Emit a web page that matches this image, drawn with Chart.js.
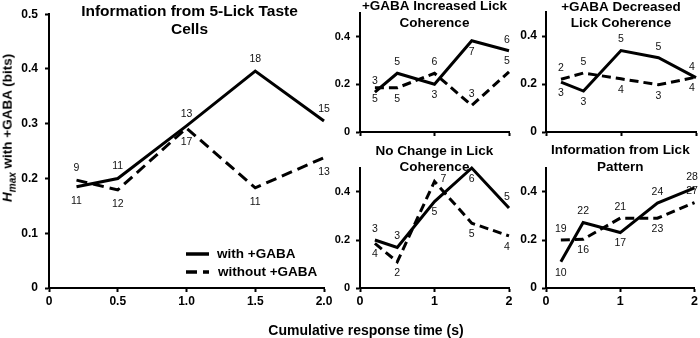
<!DOCTYPE html>
<html>
<head>
<meta charset="utf-8">
<script src="https://cdn.jsdelivr.net/npm/chart.js@4.4.1/dist/chart.umd.min.js"></script>
<style>
    body { margin: 0; background: #fff; width: 700px; height: 338px; overflow: hidden; position: relative; font-family: "Liberation Sans", Arial, sans-serif; }
    canvas { position: absolute; }
    #ylab { position: absolute; left: 9px; top: 128px; transform: translate(-50%, -50%) rotate(-90deg); white-space: nowrap; font-weight: bold; font-size: 13.5px; line-height: 1; color: #000; }
    #ylab sub { font-size: 10px; line-height: 1; }
    #xlab { position: absolute; left: 366px; top: 330px; transform: translate(-50%, -50%); white-space: nowrap; font-weight: bold; font-size: 14px; color: #000; }
</style>
</head>
<body>
<canvas id="taste" width="345" height="310" style="left:0;top:0"></canvas>
<canvas id="incr" width="200" height="160" style="left:315px;top:0"></canvas>
<canvas id="decr" width="190" height="160" style="left:510px;top:0"></canvas>
<canvas id="nochg" width="200" height="200" style="left:315px;top:138px"></canvas>
<canvas id="pattern" width="190" height="200" style="left:510px;top:138px"></canvas>
<div id="ylab"><i>H</i><sub><i>max</i></sub> with +GABA (bits)</div>
<div id="xlab">Cumulative response time (s)</div>
<script>
const times = [0.2, 0.5, 1.0, 1.5, 2.0];
const seriesNames = ['with +GABA', 'without +GABA'];

const mainXTicks = [0, 0.5, 1.0, 1.5, 2.0];
const mainYTicks = [0, 0.1, 0.2, 0.3, 0.4, 0.5];
const smallXTicks = [0, 1, 2];
const smallYTicks = [0, 0.2, 0.4];

// Information from 5-Lick Taste Cells
const tasteTitle = ['Information from 5-Lick Taste', 'Cells'];
const tasteWith = [0.185, 0.200, 0.296, 0.396, 0.305];
const tasteWithout = [0.197, 0.179, 0.292, 0.183, 0.238];
const tasteWithN = [11, 11, 13, 18, 15];
const tasteWithoutN = [9, 12, 17, 11, 13];
const tasteWithPos = ['d', 'u', 'u', 'u', 'u'];
const tasteWithoutPos = ['u', 'd', 'd', 'd', 'd'];

// +GABA Increased Lick Coherence
const incrTitle = ['+GABA Increased Lick', 'Coherence'];
const incrWith = [0.167, 0.246, 0.200, 0.382, 0.340];
const incrWithout = [0.185, 0.185, 0.246, 0.111, 0.252];
const incrWithN = [3, 5, 3, 7, 6];
const incrWithoutN = [5, 5, 6, 3, 5];
const incrWithPos = ['u', 'u', 'd', 'd', 'u'];
const incrWithoutPos = ['d', 'd', 'u', 'u', 'u'];

// +GABA Decreased Lick Coherence
const decrTitle = ['+GABA Decreased', 'Lick Coherence'];
const decrWith = [0.208, 0.171, 0.340, 0.310, 0.227];
const decrWithout = [0.220, 0.246, 0.222, 0.197, 0.229];
const decrWithN = [3, 3, 5, 5, 4];
const decrWithoutN = [2, 5, 4, 3, 4];
const decrWithPos = ['d', 'd', 'u', 'u', 'u'];
const decrWithoutPos = ['u', 'u', 'd', 'd', 'd'];

// No Change in Lick Coherence
const nochgTitle = ['No Change in Lick', 'Coherence'];
const nochgWith = [0.200, 0.169, 0.360, 0.500, 0.333];
const nochgWithout = [0.186, 0.109, 0.444, 0.270, 0.217];
const nochgWithN = [3, 3, 5, 6, 5];
const nochgWithoutN = [4, 2, 7, 5, 4];
const nochgWithPos = ['u', 'u', 'd', 'd', 'u'];
const nochgWithoutPos = ['d', 'd', 'r', 'd', 'd'];

// Information from Lick Pattern
const patternTitle = ['Information from Lick', 'Pattern'];
const patternWith = [0.109, 0.273, 0.231, 0.354, 0.417];
const patternWithout = [0.200, 0.203, 0.291, 0.291, 0.356];
const patternWithN = [10, 22, 17, 24, 28];
const patternWithoutN = [19, 16, 21, 23, 27];
const patternWithPos = ['d', 'u', 'd', 'u', 'u'];
const patternWithoutPos = ['u', 'd', 'u', 'd', 'u'];

const FONT = '"Liberation Sans", Arial, sans-serif';

const countLabels = {
    id: 'countLabels',
    afterDatasetsDraw(chart, args, opts) {
        const ctx = chart.ctx;
        ctx.save();
        ctx.font = '10.5px ' + FONT;
        ctx.fillStyle = '#111';
        ctx.textAlign = 'center';
        ctx.textBaseline = 'middle';
        chart.data.datasets.forEach((ds, i) => {
            chart.getDatasetMeta(i).data.forEach((pt, j) => {
                const pos = ds.labelPos[j];
                let dx = 0;
                let dy = pos === 'u' ? -opts.up : opts.down;
                if (pos === 'r') { dx = 9; dy = -2; }
                // keep the last label inside the canvas edge
                const x = Math.min(pt.x + dx, chart.width - 8);
                ctx.fillText(String(ds.counts[j]), x, pt.y + dy);
            });
        });
        ctx.restore();
    }
};

const panelTitle = {
    id: 'panelTitle',
    afterDraw(chart, args, opts) {
        const ctx = chart.ctx;
        const cx = (chart.chartArea.left + chart.chartArea.right) / 2 + (opts.dx || 0);
        ctx.save();
        ctx.font = 'bold ' + opts.size + 'px ' + FONT;
        ctx.fillStyle = '#000';
        ctx.textAlign = 'center';
        ctx.textBaseline = 'middle';
        opts.lines.forEach((line, i) => ctx.fillText(line, cx, opts.ys[i]));
        ctx.restore();
    }
};

const seriesKey = {
    id: 'seriesKey',
    afterDraw(chart, args, opts) {
        if (!opts.show) return;
        const ctx = chart.ctx;
        ctx.save();
        chart.data.datasets.forEach((ds, i) => {
            const y = opts.y + i * 18;
            ctx.strokeStyle = '#000';
            ctx.lineWidth = 3.5;
            ctx.setLineDash(ds.borderDash || []);
            ctx.beginPath();
            ctx.moveTo(opts.x, y);
            ctx.lineTo(opts.x + 23, y);
            ctx.stroke();
            ctx.setLineDash([]);
            ctx.font = 'bold 13.5px ' + FONT;
            ctx.fillStyle = '#000';
            ctx.textAlign = 'left';
            ctx.textBaseline = 'middle';
            ctx.fillText(ds.label, opts.x + 31 + i, y);
        });
        ctx.restore();
    }
};

function makePanel(id, cfg) {
    const canvas = document.getElementById(id);
    const line = (vals, counts, pos, dash) => ({
        data: times.map((t, i) => ({ x: t, y: vals[i] })),
        borderColor: '#000',
        borderWidth: 3,
        borderDash: dash,
        pointRadius: 0,
        tension: 0,
        clip: false,
        counts: counts,
        labelPos: pos
    });
    const ds1 = line(cfg.withVals, cfg.withN, cfg.withPos, []);
    ds1.label = seriesNames[0];
    const ds2 = line(cfg.withoutVals, cfg.withoutN, cfg.withoutPos, cfg.dash);
    ds2.label = seriesNames[1];

    return new Chart(canvas.getContext('2d'), {
        type: 'line',
        data: { datasets: [ds1, ds2] },
        options: {
            responsive: false,
            animation: false,
            layout: { padding: cfg.padding },
            plugins: {
                legend: { display: false },
                tooltip: { enabled: false },
                countLabels: { up: cfg.up, down: cfg.down },
                panelTitle: { lines: cfg.title, ys: cfg.titleY, size: cfg.titleSize, dx: cfg.titleDx },
                seriesKey: cfg.key || { show: false }
            },
            scales: {
                x: {
                    type: 'linear',
                    min: 0,
                    max: 2,
                    afterBuildTicks: s => { s.ticks = cfg.xTicks.map(v => ({ value: v })); },
                    afterFit: s => { s.height = cfg.xHeight; },
                    ticks: {
                        display: cfg.xLabels,
                        color: '#000',
                        padding: 2,
                        maxRotation: 0,
                        font: { family: FONT, size: cfg.xTickSize || cfg.tickSize, weight: 'bold' },
                        callback: v => cfg.xFmt(v)
                    },
                    grid: { drawOnChartArea: false, tickLength: 4, tickColor: '#000', tickWidth: 2 },
                    border: { color: '#000', width: 2 }
                },
                y: {
                    min: 0,
                    max: 0.5,
                    afterBuildTicks: s => { s.ticks = cfg.yTicks.map(v => ({ value: v })); },
                    afterFit: s => { s.width = cfg.yWidth; },
                    ticks: {
                        color: '#000',
                        padding: cfg.yPad,
                        font: { family: FONT, size: cfg.tickSize, weight: 'bold' },
                        callback: v => v === 0 ? '0' : v.toFixed(1)
                    },
                    grid: { drawOnChartArea: false, tickLength: 4, tickColor: '#000', tickWidth: 2 },
                    border: { color: '#000', width: 2 }
                }
            }
        },
        plugins: [countLabels, panelTitle, seriesKey]
    });
}

const smallBase = {
    xTicks: smallXTicks, yTicks: smallYTicks,
    xFmt: v => String(v), tickSize: 12, xTickSize: 12.5, titleSize: 13.5,
    up: 11, down: 11, dash: [9, 5], titleDx: 0
};

makePanel('taste', {
    title: tasteTitle, titleY: [12, 30], titleSize: 15.5, titleDx: 3,
    withVals: tasteWith, withoutVals: tasteWithout,
    withN: tasteWithN, withoutN: tasteWithoutN,
    withPos: tasteWithPos, withoutPos: tasteWithoutPos,
    padding: { left: 9, right: 21, top: 12, bottom: 0 },
    yWidth: 40, xHeight: 22, yPad: 7, xLabels: true,
    xTicks: mainXTicks, yTicks: mainYTicks,
    xFmt: v => v === 0 ? '0' : v.toFixed(1), tickSize: 12,
    up: 12, down: 14, dash: [11, 6],
    key: { show: true, x: 186, y: 254 }
});

makePanel('incr', Object.assign({}, smallBase, {
    title: incrTitle, titleY: [6, 23],
    withVals: incrWith, withoutVals: incrWithout,
    withN: incrWithN, withoutN: incrWithoutN,
    withPos: incrWithPos, withoutPos: incrWithoutPos,
    padding: { left: 2, right: 6, top: 12, bottom: 20 },
    yWidth: 43, xHeight: 8, yPad: 6, xLabels: false, tickSize: 11
}));

makePanel('decr', Object.assign({}, smallBase, {
    title: decrTitle, titleY: [7, 23],
    withVals: decrWith, withoutVals: decrWithout,
    withN: decrWithN, withoutN: decrWithoutN,
    withPos: decrWithPos, withoutPos: decrWithoutPos,
    padding: { left: 0, right: 4, top: 12, bottom: 20 },
    yWidth: 36, xHeight: 8, yPad: 5, xLabels: false
}));

makePanel('nochg', Object.assign({}, smallBase, {
    title: nochgTitle, titleY: [13, 29],
    withVals: nochgWith, withoutVals: nochgWithout,
    withN: nochgWithN, withoutN: nochgWithoutN,
    withPos: nochgWithPos, withoutPos: nochgWithoutPos,
    padding: { left: 2, right: 6, top: 30, bottom: 28 },
    yWidth: 43, xHeight: 22, yPad: 6, xLabels: true, tickSize: 11
}));

makePanel('pattern', Object.assign({}, smallBase, {
    title: patternTitle, titleY: [12, 29],
    withVals: patternWith, withoutVals: patternWithout,
    withN: patternWithN, withoutN: patternWithoutN,
    withPos: patternWithPos, withoutPos: patternWithoutPos,
    padding: { left: 0, right: 4, top: 30, bottom: 28 },
    yWidth: 36, xHeight: 22, yPad: 5, xLabels: true
}));
</script>
</body>
</html>
